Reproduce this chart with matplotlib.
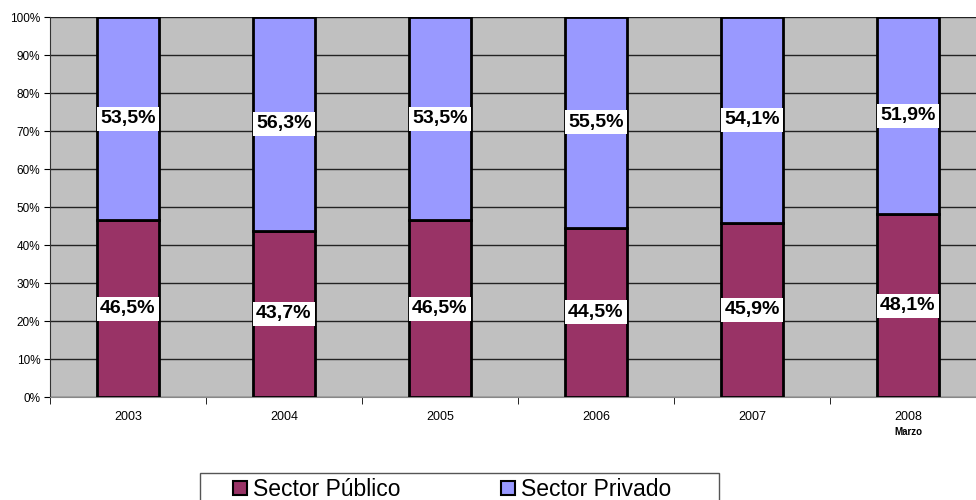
import numpy as np
import matplotlib
matplotlib.use("Agg")
import matplotlib.pyplot as plt
from matplotlib.patches import Patch, Rectangle

# --- data ---
years = ["2003", "2004", "2005", "2006", "2007", "2008"]
publico = [46.5, 43.7, 46.5, 44.5, 45.9, 48.1]
privado = [53.5, 56.3, 53.5, 55.5, 54.1, 51.9]

C_PUB = "#993366"
C_PRIV = "#9999FF"
C_BG = "#C0C0C0"

plt.rcParams["font.family"] = ["Liberation Sans", "DejaVu Sans"]

W, H = 976, 500
fig = plt.figure(figsize=(W / 100, H / 100), dpi=100)
# plot area in pixels: x 50..986 (runs off the right edge), y 17..397
ax = fig.add_axes([50 / W, (H - 397) / H, 936 / W, 380 / H])
ax.set_facecolor(C_BG)

x = np.arange(len(years))
pub = np.array(publico) / 100
priv = np.array(privado) / 100
ax.bar(x, pub, width=0.4, color=C_PUB, edgecolor="black", linewidth=2, zorder=3)
ax.bar(x, priv, width=0.4, bottom=pub, color=C_PRIV, edgecolor="black", linewidth=2, zorder=3)

box = dict(facecolor="white", edgecolor="none", pad=2.5)
for i in range(len(years)):
    ax.text(x[i], pub[i] / 2, f"{publico[i]:.1f}%".replace(".", ","), ha="center", va="center",
            fontsize=14, fontweight="bold", bbox=box, zorder=5)
    ax.text(x[i], pub[i] + priv[i] / 2, f"{privado[i]:.1f}%".replace(".", ","), ha="center", va="center",
            fontsize=14, fontweight="bold", bbox=box, zorder=5)

ax.set_xlim(-0.5, len(years) - 0.5)
ax.set_ylim(0, 1)
ax.set_yticks(np.arange(0, 1.01, 0.1))
ax.set_yticklabels([f"{int(round(v * 100))}%" for v in np.arange(0, 1.01, 0.1)], fontsize=8.5)
ax.yaxis.grid(True, color="#222222", linewidth=1, zorder=0)
ax.set_axisbelow(True)

ax.set_xticks(x)
ax.set_xticklabels(years, fontsize=9)
ax.tick_params(axis="x", length=0, pad=10)
ax.set_xticks(np.arange(-0.5, len(years), 1), minor=True)
ax.tick_params(axis="x", which="minor", length=5, direction="out", color="black")
ax.tick_params(axis="y", length=4, direction="out", pad=3)
ax.text(x[-1], -0.092, "Marzo", ha="center", va="center", fontsize=7, fontweight="bold")

for s in ["top", "right"]:
    ax.spines[s].set_visible(False)
ax.spines["left"].set_color("#333333")
ax.spines["bottom"].set_color("#888888")

# legend frame runs off the bottom edge, as in the reference
fig.patches.append(Rectangle((200 / W, -0.05), 519 / W, (H - 473) / H + 0.05,
                             transform=fig.transFigure, facecolor="white",
                             edgecolor="#555555", linewidth=1, zorder=1))
handles = [Patch(facecolor=C_PUB, edgecolor="black", linewidth=1.5, label="Sector Público"),
           Patch(facecolor=C_PRIV, edgecolor="black", linewidth=1.5, label="Sector Privado")]
leg = fig.legend(handles=handles, loc="upper left", bbox_to_anchor=(233 / W, (H - 478) / H),
                 ncol=2, frameon=False, fontsize=16.5, handlelength=0.62, handleheight=0.62,
                 handletextpad=0.25, columnspacing=4.4, borderaxespad=0, borderpad=0)
leg.set_zorder(2)

fig.savefig("out.png", dpi=100)
